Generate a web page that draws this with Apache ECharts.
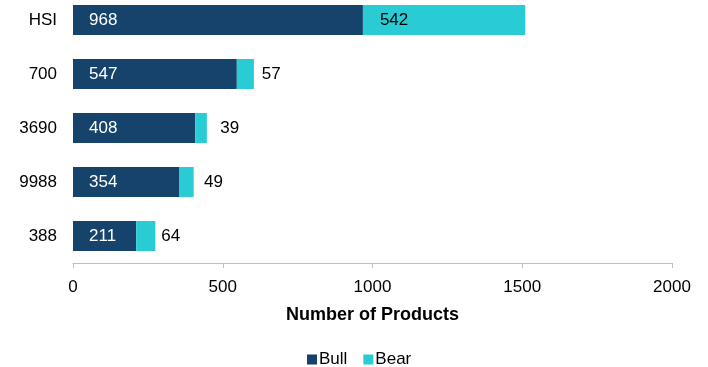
<!DOCTYPE html>
<html>
<head>
<meta charset="utf-8">
<script src="https://cdn.jsdelivr.net/npm/echarts@6/dist/echarts.min.js"></script>
<style>
  html, body { margin: 0; padding: 0; background: #fff; }
  #chart { width: 708px; height: 367px; }
</style>
</head>
<body>
<div id="chart"></div>
<script>
// top to bottom as shown
const categories = ['HSI', '700', '3690', '9988', '388']
const bullValues = [968, 547, 408, 354, 211]
const bearValues = [542, 57, 39, 49, 64]
const xTicks = [0, 500, 1000, 1500, 2000]

const chart = echarts.init(document.getElementById('chart'))
const font = 'Liberation Sans, Arial, sans-serif'
const fs = 17

const option = {
  animation: false,
  textStyle: { fontFamily: font },
  grid: { left: 73, right: 36, top: -7, height: 270, outerBoundsMode: 'none' },
  legend: {
    data: ['Bull', 'Bear'],
    left: 302,
    top: 346,
    itemWidth: 10,
    itemHeight: 10,
    itemGap: 16,
    icon: 'rect',
    textStyle: { fontSize: fs, color: '#000', fontFamily: font, padding: [0, 0, 0, -3] }
  },
  xAxis: {
    type: 'value',
    min: xTicks[0],
    max: xTicks[xTicks.length - 1],
    interval: 500,
    name: 'Number of Products',
    nameLocation: 'middle',
    nameGap: 43,
    nameTextStyle: { fontSize: 18, fontWeight: 'bold', color: '#000', fontFamily: font },
    axisLine: { show: true, lineStyle: { color: '#bfbfbf' } },
    axisTick: { show: true, length: 5, lineStyle: { color: '#bfbfbf' } },
    axisLabel: { fontSize: fs, color: '#000', margin: 16, fontFamily: font, formatter: v => String(v) },
    splitLine: { show: false }
  },
  yAxis: {
    type: 'category',
    data: categories,
    inverse: true,
    axisLine: { show: false },
    axisTick: { show: false },
    axisLabel: { fontSize: fs, color: '#000', margin: 16, fontFamily: font }
  },
  series: [
    {
      name: 'Bull',
      type: 'bar',
      stack: 'total',
      barWidth: 30,
      itemStyle: { color: '#15436b' },
      label: {
        show: true,
        position: 'insideLeft',
        distance: 16,
        color: '#fff',
        fontSize: fs,
        fontFamily: font
      },
      data: bullValues
    },
    {
      name: 'Bear',
      type: 'bar',
      stack: 'total',
      barWidth: 30,
      itemStyle: { color: '#29ccd5' },
      label: {
        show: true,
        position: 'insideLeft',
        distance: 25,
        color: '#000',
        fontSize: fs,
        fontFamily: font
      },
      data: bearValues.map((v, i) => i === 0
        ? { value: v, label: { distance: 17 } }
        : v)
    }
  ]
}

chart.setOption(option)
</script>
</body>
</html>
